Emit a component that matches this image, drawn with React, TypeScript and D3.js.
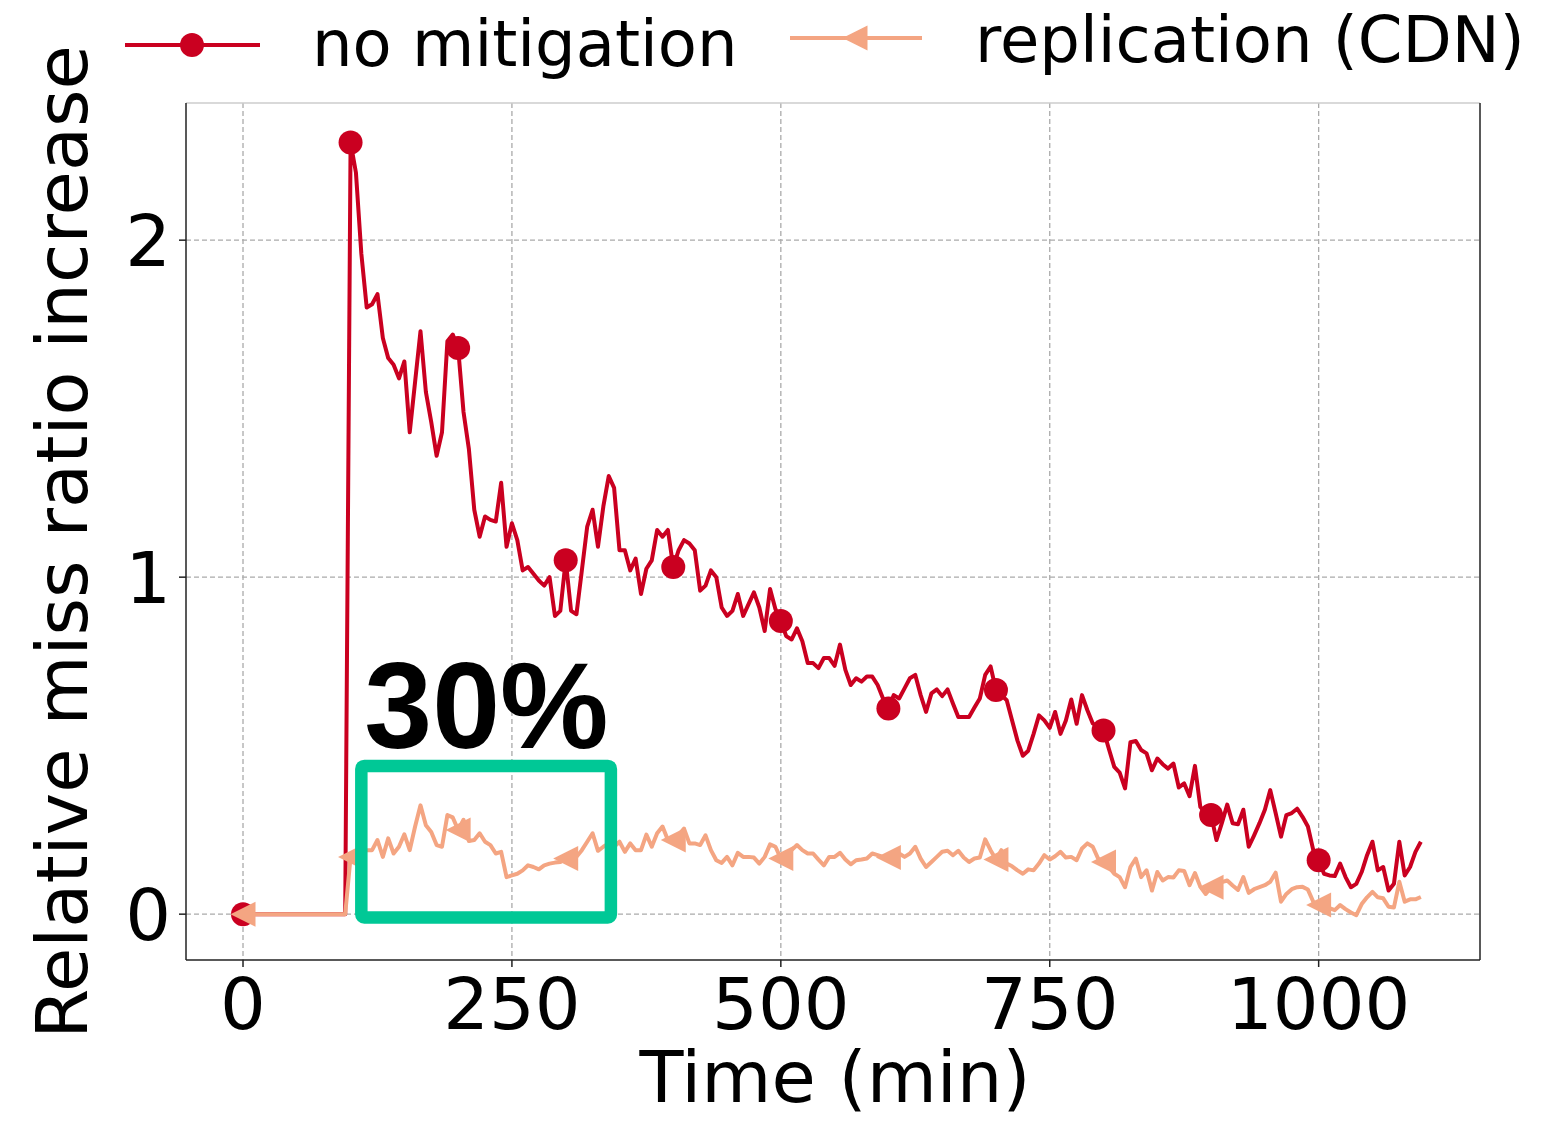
import React from 'react';
import * as d3 from 'd3';

// minutes, one sample every 5 min from 0 to 1095
const stepMin = 5;

const noMitigation = [
  0, 0, 0, 0, 0, 0, 0, 0, 0, 0,
  0, 0, 0, 0, 0, 0, 0, 0, 0, 0,
  2.29, 2.2, 1.96, 1.8, 1.81, 1.84, 1.71, 1.65, 1.63, 1.59,
  1.64, 1.43, 1.58, 1.73, 1.55, 1.46, 1.36, 1.43, 1.7, 1.72,
  1.68, 1.49, 1.38, 1.2, 1.12, 1.18, 1.17, 1.165, 1.28, 1.09,
  1.16, 1.11, 1.02, 1.03, 1.01, 0.99, 0.975, 1.0, 0.885, 0.9,
  1.05, 0.9, 0.89, 1.02, 1.15, 1.2, 1.09, 1.21, 1.3, 1.265,
  1.08, 1.08, 1.02, 1.055, 0.95, 1.025, 1.05, 1.14, 1.12, 1.14,
  1.03, 1.08, 1.11, 1.1, 1.08, 0.96, 0.975, 1.02, 1.0, 0.91,
  0.885, 0.9, 0.95, 0.885, 0.92, 0.955, 0.91, 0.84, 0.965, 0.905,
  0.87, 0.825, 0.815, 0.848, 0.81, 0.745, 0.745, 0.73, 0.76, 0.76,
  0.737, 0.8, 0.725, 0.68, 0.7, 0.69, 0.705, 0.705, 0.68, 0.64,
  0.61, 0.65, 0.64, 0.67, 0.7, 0.71, 0.65, 0.6, 0.655, 0.667,
  0.647, 0.667, 0.625, 0.585, 0.585, 0.585, 0.613, 0.64, 0.71, 0.735,
  0.665, 0.65, 0.635, 0.575, 0.515, 0.47, 0.485, 0.535, 0.59, 0.575,
  0.553, 0.6, 0.535, 0.575, 0.637, 0.565, 0.65, 0.605, 0.566, 0.555,
  0.545, 0.49, 0.437, 0.42, 0.373, 0.51, 0.514, 0.487, 0.477, 0.427,
  0.462, 0.445, 0.432, 0.447, 0.376, 0.388, 0.35, 0.44, 0.318, 0.3,
  0.294, 0.22, 0.27, 0.325, 0.27, 0.267, 0.31, 0.2, 0.234, 0.27,
  0.31, 0.368, 0.3, 0.23, 0.294, 0.3, 0.313, 0.289, 0.26, 0.19,
  0.16, 0.12, 0.115, 0.113, 0.15, 0.11, 0.08, 0.09, 0.125, 0.175,
  0.215, 0.13, 0.14, 0.07, 0.09, 0.215, 0.115, 0.14, 0.185, 0.215,
];

const replication = [
  0, 0, 0, 0, 0, 0, 0, 0, 0, 0,
  0, 0, 0, 0, 0, 0, 0, 0, 0, 0,
  0.17, 0.18, 0.19, 0.19, 0.19, 0.22, 0.17, 0.225, 0.18, 0.2,
  0.237, 0.19, 0.26, 0.323, 0.264, 0.244, 0.205, 0.2, 0.294, 0.287,
  0.25, 0.28, 0.217, 0.22, 0.24, 0.215, 0.205, 0.18, 0.185, 0.11,
  0.115, 0.12, 0.13, 0.145, 0.14, 0.133, 0.145, 0.15, 0.153, 0.155,
  0.165, 0.165, 0.17, 0.19, 0.215, 0.24, 0.188, 0.2, 0.21, 0.2,
  0.215, 0.185, 0.21, 0.19, 0.19, 0.236, 0.2, 0.24, 0.26, 0.22,
  0.22, 0.235, 0.254, 0.21, 0.21, 0.205, 0.234, 0.19, 0.16, 0.152,
  0.17, 0.145, 0.182, 0.17, 0.17, 0.168, 0.15, 0.17, 0.207, 0.2,
  0.165, 0.175, 0.19, 0.205, 0.19, 0.18, 0.18, 0.162, 0.145, 0.17,
  0.17, 0.182, 0.162, 0.148, 0.16, 0.162, 0.165, 0.18, 0.175, 0.17,
  0.168, 0.17, 0.18, 0.17, 0.18, 0.2, 0.165, 0.14, 0.155, 0.17,
  0.185, 0.188, 0.175, 0.188, 0.168, 0.155, 0.165, 0.168, 0.222, 0.19,
  0.162, 0.19, 0.15, 0.142, 0.13, 0.12, 0.133, 0.13, 0.15, 0.175,
  0.162, 0.172, 0.185, 0.168, 0.17, 0.16, 0.195, 0.21, 0.2, 0.165,
  0.155, 0.14, 0.12, 0.11, 0.08, 0.14, 0.165, 0.11, 0.13, 0.07,
  0.125, 0.1, 0.11, 0.109, 0.13, 0.128, 0.086, 0.122, 0.081, 0.06,
  0.08, 0.085, 0.095, 0.1, 0.085, 0.072, 0.11, 0.063, 0.074, 0.08,
  0.086, 0.096, 0.123, 0.037, 0.06, 0.074, 0.08, 0.081, 0.073, 0.037,
  0.027, 0.02, 0.018, 0.012, 0.027, 0.015, 0.005, -0.003, 0.03, 0.05,
  0.066, 0.05, 0.047, 0.022, 0.02, 0.096, 0.037, 0.044, 0.044, 0.051,
];

const xTicks = [0, 250, 500, 750, 1000];
const yTicks = [0, 1, 2];
const markEveryMin = 100;
const highlight = { x0: 110, x1: 342, y0: -0.01, y1: 0.44, label: '30%' };

const RED = '#ca0020';
const ORANGE = '#f4a582';
const GREEN = '#00c896';
const FONT = '"DejaVu Sans", sans-serif';

type Pt = { t: number; v: number };

const App: React.FC = () => {
  const width = 1561;
  const height = 1121;
  const plot = { left: 186, right: 1480, top: 103, bottom: 960 };

  const x = d3.scaleLinear().domain([-53, 1150]).range([plot.left, plot.right]);
  const y = d3.scaleLinear().domain([-0.136, 2.407]).range([plot.bottom, plot.top]);

  const toPts = (vals: number[]): Pt[] => vals.map((v, i) => ({ t: i * stepMin, v }));
  const red = toPts(noMitigation);
  const org = toPts(replication);

  const line = d3.line<Pt>().x(d => x(d.t)).y(d => y(d.v));
  const isMark = (d: Pt) => d.t % markEveryMin === 0;

  const tri = (cx: number, cy: number, s: number) =>
    `M${cx - s},${cy}L${cx + s},${cy - s}L${cx + s},${cy + s}Z`;

  return (
    <div style={{ position: 'absolute', left: 0, top: 0 }}>
      <svg width={width} height={height} style={{ display: 'block', background: '#fff' }}>
        {/* grid */}
        {xTicks.map(t => (
          <line key={'gx' + t} x1={x(t)} x2={x(t)} y1={plot.top} y2={plot.bottom}
            stroke="#aaaaaa" strokeWidth={1.3} strokeDasharray="5,3" />
        ))}
        {yTicks.map(t => (
          <line key={'gy' + t} x1={plot.left} x2={plot.right} y1={y(t)} y2={y(t)}
            stroke="#aaaaaa" strokeWidth={1.3} strokeDasharray="5,3" />
        ))}

        {/* spines */}
        <line x1={plot.left} x2={plot.right} y1={plot.top} y2={plot.top} stroke="#cccccc" strokeWidth={1.5} />
        <line x1={plot.right} x2={plot.right} y1={plot.top} y2={plot.bottom} stroke="#222" strokeWidth={1.5} />
        <line x1={plot.left} x2={plot.left} y1={plot.top} y2={plot.bottom} stroke="#222" strokeWidth={1.5} />
        <line x1={plot.left} x2={plot.right} y1={plot.bottom} y2={plot.bottom} stroke="#222" strokeWidth={1.5} />

        {/* ticks */}
        {xTicks.map(t => (
          <g key={'tx' + t}>
            <line x1={x(t)} x2={x(t)} y1={plot.bottom} y2={plot.bottom + 7} stroke="#222" strokeWidth={1.5} />
            <text x={x(t)} y={1029} textAnchor="middle" fontFamily={FONT} fontSize={72}>{t}</text>
          </g>
        ))}
        {yTicks.map(t => (
          <g key={'ty' + t}>
            <line x1={plot.left - 7} x2={plot.left} y1={y(t)} y2={y(t)} stroke="#222" strokeWidth={1.5} />
            <text x={171} y={y(t)} dy="0.36em" textAnchor="end" fontFamily={FONT} fontSize={72}>{t}</text>
          </g>
        ))}

        {/* axis labels */}
        <text x={835} y={1102} textAnchor="middle" fontFamily={FONT} fontSize={72}>Time (min)</text>
        <text transform={`translate(87,542) rotate(-90)`} textAnchor="middle" fontFamily={FONT} fontSize={72}>
          Relative miss ratio increase
        </text>

        {/* series */}
        <path d={line(red) || ''} fill="none" stroke={RED} strokeWidth={4} strokeLinejoin="round" />
        {red.filter(isMark).map(d => (
          <circle key={'rm' + d.t} cx={x(d.t)} cy={y(d.v)} r={12} fill={RED} />
        ))}
        <path d={line(org) || ''} fill="none" stroke={ORANGE} strokeWidth={4} strokeLinejoin="round" />
        {org.filter(isMark).map(d => (
          <path key={'om' + d.t} d={tri(x(d.t), y(d.v), 12.5)} fill={ORANGE} />
        ))}

        {/* highlight box */}
        <rect x={x(highlight.x0)} y={y(highlight.y1)}
          width={x(highlight.x1) - x(highlight.x0)} height={y(highlight.y0) - y(highlight.y1)}
          fill="none" stroke={GREEN} strokeWidth={12.5} rx={3} />
        <text x={x(highlight.x0) + 3} y={748} fontFamily='"Liberation Sans", Arial, sans-serif'
          fontWeight="bold" fontSize={122}>{highlight.label}</text>

        {/* legend */}
        <line x1={125} x2={260} y1={45} y2={45} stroke={RED} strokeWidth={4} />
        <circle cx={192} cy={45} r={12} fill={RED} />
        <text x={312} y={66} fontFamily={FONT} fontSize={64}>no mitigation</text>
        <line x1={790} x2={922} y1={38} y2={38} stroke={ORANGE} strokeWidth={4} />
        <path d={tri(855, 38, 12.5)} fill={ORANGE} />
        <text x={975} y={62} fontFamily={FONT} fontSize={64}>replication (CDN)</text>
      </svg>
    </div>
  );
};

export default App;
